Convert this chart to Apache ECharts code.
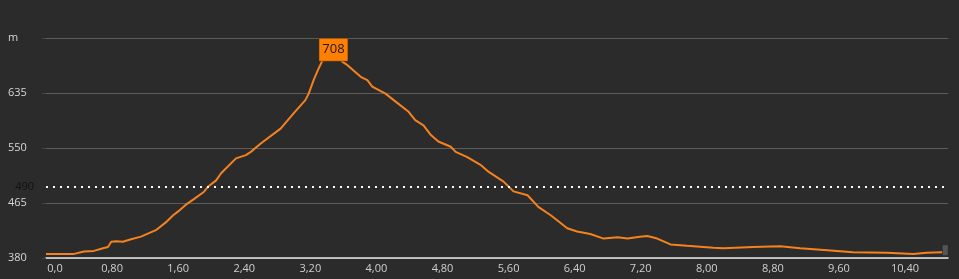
<!DOCTYPE html>
<html><head><meta charset="utf-8">
<script src="https://cdn.jsdelivr.net/npm/echarts@6/dist/echarts.min.js"></script>
<style>html,body{margin:0;padding:0;background:#2b2b2b}#c{width:959px;height:279px}</style>
</head><body><div id="c"></div>
<script>
const distanceKm = [0,0.33,0.46,0.58,0.69,0.75,0.79,0.85,0.93,1.03,1.15,1.33,1.45,1.54,1.60,1.69,1.79,1.91,1.96,2.06,2.12,2.30,2.42,2.48,2.60,2.84,3.00,3.14,3.18,3.24,3.29,3.35,3.48,3.59,3.65,3.81,3.89,3.95,4.11,4.26,4.39,4.47,4.57,4.66,4.75,4.90,4.96,5.10,5.26,5.36,5.42,5.54,5.66,5.83,5.96,6.11,6.23,6.31,6.43,6.59,6.75,6.92,7.04,7.19,7.28,7.40,7.56,7.76,8.08,8.20,8.56,8.89,9.13,9.46,9.77,10.18,10.50,10.66,10.85];
const elevationM = [386,386,390,391,395,397,405,406,405,409,413,423,435,446,452,462,471,482,490,500,511,534,539,544,557,580,604,624,634,655,670,686,708,683,678,660,655,645,634,619,606,593,585,570,560,552,544,536,524,513,508,498,483,477,459,446,434,426,421,417,410,412,410,413,414,410,401,399,396,395,397,398,395,392,389,388,386,388,389];
const yTicks = [380,465,550,635,720];
const refLevel = 490;
const peak = {km:3.48, m:708};

const chart = echarts.init(document.getElementById('c'));
const font = '"Open Sans", "DejaVu Sans", sans-serif';
chart.setOption({
  backgroundColor:'#2b2b2b',
  animation:false,
  grid:{left:46,right:11,top:38,bottom:21},
  xAxis:{type:'value',min:0,max:10.92,interval:0.8,
    axisLine:{lineStyle:{color:'#e8e8e8',width:1.5}},
    axisTick:{show:false},splitLine:{show:false},
    axisLabel:{color:'#cfcfcf',fontSize:11,fontFamily:font,margin:5,showMaxLabel:false,
      formatter:v=>v===0?'{f|0,0}':v.toFixed(2).replace('.',','),
      rich:{f:{padding:[0,0,0,18],color:'#cfcfcf',fontSize:11,fontFamily:font}}}},
  yAxis:{type:'value',min:yTicks[0],max:yTicks[yTicks.length-1],interval:85,
    axisLine:{show:false},
    axisTick:{show:true,length:4,lineStyle:{color:'#444'}},
    splitLine:{lineStyle:{color:'#5c5c5c',width:1}},
    axisLabel:{color:'#d6d6d6',fontSize:11,fontFamily:font,align:'left',margin:38,
      formatter:v=>v===720?'m':String(v)}},
  series:[{
    type:'line',
    data:distanceKm.map((d,i)=>[d,elevationM[i]]),
    showSymbol:false,symbol:'none',
    lineStyle:{color:'#f5821f',width:2},
    markLine:{silent:true,symbol:'none',
      lineStyle:{color:'#ffffff',type:[2,5],width:2},
      label:{position:'start',color:'#111',fontSize:11,fontFamily:font,distance:12},
      data:[{yAxis:refLevel}]},
    markPoint:{silent:true,
      data:[
        {coord:[peak.km,peak.m],value:peak.m,symbol:'rect',symbolSize:[29,23],symbolOffset:[0,4],
         itemStyle:{color:'#ff8000',borderColor:'#3a2a1a',borderWidth:0.5},
         label:{show:true,color:'#1a1a1a',fontSize:13,fontFamily:font,formatter:'{c}'}},
        {coord:[distanceKm[distanceKm.length-1],elevationM[elevationM.length-1]],symbol:'rect',symbolSize:[5,10],symbolOffset:[3,-2],
         itemStyle:{color:'#555'},label:{show:false}}
      ]}
  }]
});
</script></body></html>
